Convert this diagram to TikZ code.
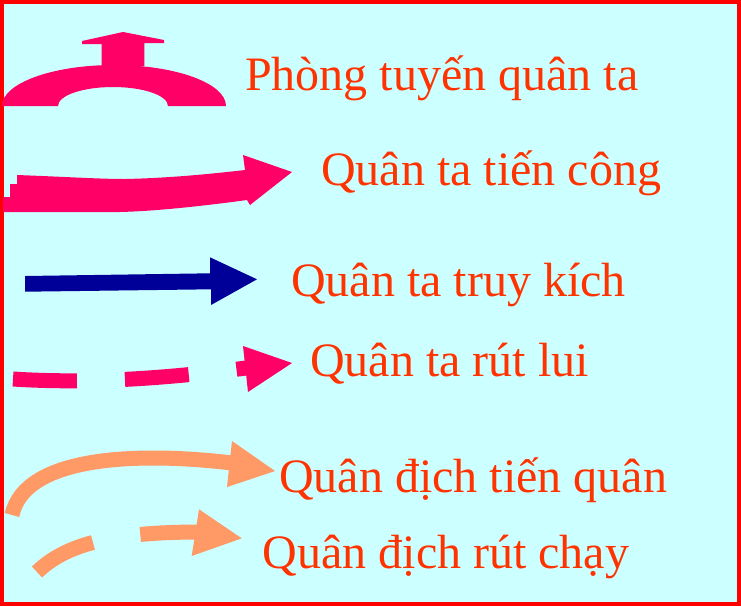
\documentclass[tikz,border=0pt]{standalone}
\usepackage{fontspec}
\setmainfont{Liberation Serif}
\definecolor{nenxanh}{HTML}{CCFFFF}
\definecolor{viendo}{HTML}{FF0000}
\definecolor{chucam}{HTML}{FF3300}
\definecolor{hongta}{HTML}{FF0066}
\definecolor{xanhta}{HTML}{000099}
\definecolor{camdich}{HTML}{FF9966}
\tikzset{
    nhan/.style={anchor=base west, inner sep=0pt, text=chucam, font=\fontsize{48}{58}\selectfont},
    netdut/.style={line width=15pt, dash pattern=on 64pt off 48pt}
}
\begin{document}
\begin{tikzpicture}[x=1pt, y=-1pt]
        \useasboundingbox (0,0) rectangle (741,606);
        \fill[nenxanh] (0,0) rectangle (741,606);
        \draw[viendo, line width=4.5pt] (2.2,2) rectangle (738.8,604);
        \fill[hongta] (2,106) .. controls (2,83.4) and (52.1,65) .. (114,65)
            .. controls (175.9,65) and (226,83.4) .. (226,106) -- (168,106)
            .. controls (168,95.5) and (143.4,87) .. (113,87)
            .. controls (82.6,87) and (58,95.5) .. (58,106) -- cycle;
        \fill[hongta] (101.7,66) -- (101.7,44) -- (82,44) -- (82,41) -- (123,32)
            -- (164,40) -- (164,43) -- (144.3,43) -- (144.3,66) -- cycle;
        \fill[hongta] (3,212) -- (3,197) -- (10,197) -- (10,184) -- (17,184) -- (17,175)
            .. controls (70,177) and (100,179) .. (125,179)
            .. controls (170,178) and (210,174) .. (245,170) -- (243,155) -- (292,172)
            -- (250,205) -- (247,200) .. controls (210,205) and (160,211) .. (120,212) -- cycle;
        \fill[xanhta] (25,276) -- (210,273.3) -- (210,257.3) -- (257,279.3)
            -- (211,305) -- (211,289.3) -- (25,291.7) -- cycle;
        \draw[hongta, netdut] (13,379) .. controls (90,384) and (170,378) .. (246,368);
        \fill[hongta] (243,346) -- (292,363) -- (248,392) -- cycle;
        \draw[camdich, line width=15pt] (12,515) .. controls (25,455) and (140,452) .. (232,463);
        \fill[camdich] (232,441) -- (275,471) -- (227,487) -- cycle;
        \draw[camdich, netdut] (37,572) .. controls (65,545) and (110,532) .. (200,532);
        \fill[camdich] (199,509.3) -- (241.7,538.3) -- (191.7,556) -- cycle;
        \node[nhan] (phongtuyen) at (245,90) {Phòng tuyến quân ta};
        \node[nhan] (tiencong) at (321,185) {Quân ta tiến công};
        \node[nhan] (truykich) at (291,296) {Quân ta truy kích};
        \node[nhan] (rutlui) at (310,376.7) {Quân ta rút lui};
        \node[nhan] (tienquan) at (279,492.7) {Quân địch tiến quân};
        \node[nhan] (rutchay) at (262.5,568.3) {Quân địch rút chạy};
\end{tikzpicture}
\end{document}
